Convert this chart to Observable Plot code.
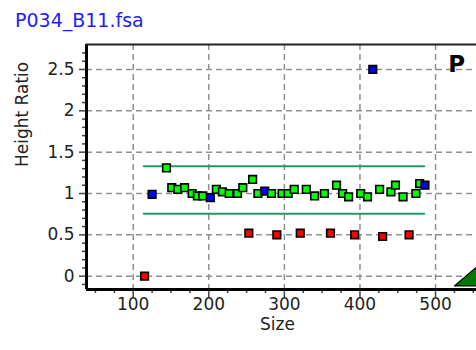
<!DOCTYPE html>
<html><head><meta charset="utf-8">
<script src="https://cdn.jsdelivr.net/npm/d3@7"></script>
<script src="https://cdn.jsdelivr.net/npm/@observablehq/plot@0.6"></script>
<style>
html,body{margin:0;padding:0;background:#fff;}
#title{height:26px;padding:10px 0 0 15px;font:19px "DejaVu Sans";line-height:20px;color:#1e1eff;}
#chart svg{display:block;}
</style></head>
<body>
<div id="title">P034_B11.fsa</div>
<div id="chart"></div>
<script>
// Sizes (x) and height ratios (y) per marker colour
const greenX = [144,151,159,168,178,185,192,210,218,227,238,245,258,265,283,297,305,313,329,340,353,369,377,385,401,410,426,441,447,457,474,479];
const greenY = [1.31,1.07,1.05,1.07,1.0,0.97,0.97,1.05,1.02,1.0,1.0,1.07,1.17,1.0,1.0,1.0,1.0,1.05,1.05,0.97,1.0,1.1,1.0,0.96,1.0,0.96,1.05,1.02,1.1,0.96,1.0,1.12];
const blueX = [125,202,274,417,486];
const blueY = [0.99,0.95,1.03,2.5,1.1];
const redX = [115,253,290,321,361,393,430,465];
const redY = [0.0,0.52,0.5,0.52,0.52,0.5,0.48,0.5];
// threshold lines
const bandY = [1.33,0.755];
const bandX = [114,485];
// axes
const xDomain = [38.2,554.2];
const yDomain = [-0.161,2.802];
const xTicks = [100,200,300,400,500];
const xMinor = [50,75,125,150,175,225,250,275,325,350,375,425,450,475,525,550];
const yTicks = [0,0.5,1,1.5,2,2.5];
const yMinor = [-0.1,0.1,0.2,0.3,0.4,0.6,0.7,0.8,0.9,1.1,1.2,1.3,1.4,1.6,1.7,1.8,1.9,2.1,2.2,2.3,2.4,2.6,2.7];
const xLabel = "Size";
const yLabel = "Height Ratio";
// annotations
const peakLabel = [{x:528, y:2.56, t:"P"}];
const triangleX = [562,525,562];
const triangleY = [-0.118,-0.118,0.17];

const colors = {green:"#00ff00", blue:"#0000ff", red:"#ff0000"};
const pts = [
  ...greenX.map((x,i)=>({x, y:greenY[i], c:"green"})),
  ...blueX.map((x,i)=>({x, y:blueY[i], c:"blue"})),
  ...redX.map((x,i)=>({x, y:redY[i], c:"red"}))
].sort((a,b)=>a.x-b.x);
const bands = bandY.flatMap((y,k)=>bandX.map(x=>({x,y,k})));
const tri = triangleX.map((x,i)=>({x, y:triangleY[i]}));

const chart = Plot.plot({
  width: 476, height: 314,
  marginLeft: 86, marginRight: 0, marginTop: 8, marginBottom: 61,
  style: {fontFamily:"DejaVu Sans", fontSize:"17px", background:"#fff", color:"#222", overflow:"hidden"},
  x: {domain: xDomain},
  y: {domain: yDomain},
  marks: [
    Plot.gridX({ticks: xTicks, stroke:"#909090", strokeOpacity:1, strokeWidth:1.5, strokeDasharray:"6,4"}),
    Plot.gridY({ticks: yTicks, stroke:"#909090", strokeOpacity:1, strokeWidth:1.5, strokeDasharray:"6,4"}),
    Plot.axisX({ticks: xMinor, tickSize:4, tickFormat:()=>"", label:null, stroke:"#444", strokeWidth:1.5}),
    Plot.axisY({ticks: yMinor, tickSize:4, tickFormat:()=>"", label:null, stroke:"#444", strokeWidth:1.5}),
    Plot.axisX({ticks: xTicks, tickSize:8, tickPadding:0, label:null, stroke:"#444", strokeWidth:1.5}),
    Plot.axisY({ticks: yTicks, tickSize:7, tickPadding:5, tickFormat: d=>String(d), label:null, stroke:"#444", strokeWidth:1.5}),
    Plot.text([xLabel], {frameAnchor:"bottom", text:d=>d, dx:-4, dy:40, fontSize:17, fill:"#222"}),
    Plot.text([yLabel], {frameAnchor:"left", text:d=>d, rotate:-90, dx:-64, fontSize:17, fill:"#222"}),
    Plot.line(bands, {x:"x", y:"y", z:"k", stroke:"#229966", strokeWidth:2}),
    Plot.dot(pts, {x:"x", y:"y", symbol:"square", r:4.3, fill:d=>colors[d.c], stroke:"#000", strokeWidth:1.6}),
    Plot.line(tri, {x:"x", y:"y", fill:"#007a00", stroke:"#000", strokeWidth:1.2}),
    Plot.ruleX([xDomain[0]], {stroke:"#000", strokeWidth:3}),
    Plot.ruleY([yDomain[0]], {stroke:"#000", strokeWidth:3}),
    Plot.ruleY([yDomain[1]], {stroke:"#222", strokeWidth:2}),
    Plot.text(peakLabel, {x:"x", y:"y", text:"t", fontSize:23, fontWeight:"bold", fill:"#000"})
  ]
});
document.getElementById("chart").appendChild(chart);
</script>
</body></html>
